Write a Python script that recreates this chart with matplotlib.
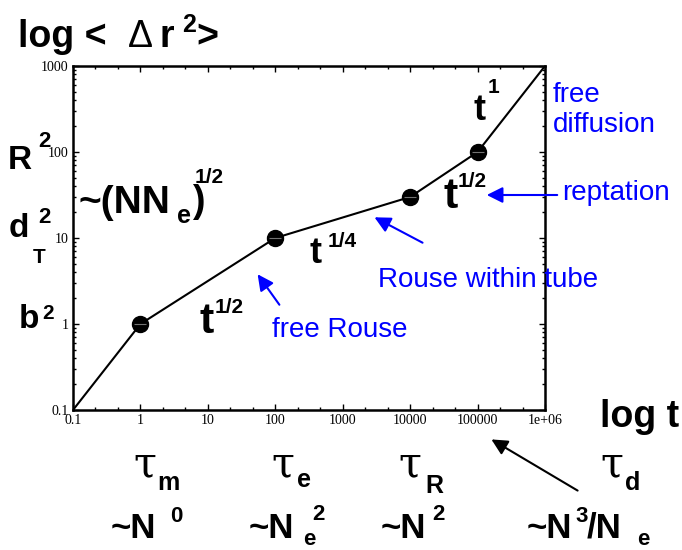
import numpy as np
import matplotlib
matplotlib.use('Agg')
import matplotlib.pyplot as plt
from matplotlib.ticker import FixedLocator, NullFormatter

# data: mean square displacement regimes of a reptating chain
t_vals = [0.1, 1, 100, 1e4, 1e5, 1e6]
msd_vals = [0.1, 1, 10, 30, 100, 1000]
cross_t = [1, 100, 1e4, 1e5]
cross_msd = [1, 10, 30, 100]
x_ticks = [0.1, 1, 10, 100, 1000, 1e4, 1e5, 1e6]
x_tick_labels = ['0.1', '1', '10', '100', '1000', '10000', '100000', '1e+06']
y_ticks = [0.1, 1, 10, 100, 1000]
y_tick_labels = ['0.1', '1', '10', '100', '1000']

W, H = 682, 550
SANS = ['Liberation Sans', 'DejaVu Sans']
SERIF = ['Liberation Serif', 'DejaVu Serif']
BLUE = '#0000ff'

fig = plt.figure(figsize=(W / 100, H / 100), dpi=100)
ax = fig.add_axes([73 / W, 140 / H, 472 / W, 344 / H])

ax.plot(t_vals, msd_vals, color='black', lw=1.5, zorder=2)
ax.plot(cross_t, cross_msd, 'o', color='black', ms=11.5, zorder=3)
ax.plot(cross_t, cross_msd, '_', color='0.45', ms=8, mew=0.8, zorder=4)

ax.set_xscale('log')
ax.set_yscale('log')
ax.set_xlim(0.1, 1e6)
ax.set_ylim(0.1, 1000)
ax.set_xticks(x_ticks)
ax.set_xticklabels(x_tick_labels)
ax.set_yticks(y_ticks)
ax.set_yticklabels(y_tick_labels)
x_minor = [10 ** (e + f) for e in range(-1, 6) for f in (1 / 3, 2 / 3)]
ax.xaxis.set_minor_locator(FixedLocator(x_minor))
ax.xaxis.set_minor_formatter(NullFormatter())
ax.yaxis.set_minor_formatter(NullFormatter())
ax.tick_params(which='both', direction='in', top=True, right=True, width=1)
ax.tick_params(which='major', length=4)
ax.tick_params(axis='y', which='major', pad=3)
ax.tick_params(axis='x', which='major', pad=3)
ax.tick_params(which='minor', length=2.2)
for lab in ax.get_xticklabels() + ax.get_yticklabels():
    lab.set_family(SERIF)
    lab.set_fontsize(10)
for sp in ax.spines.values():
    sp.set_linewidth(1.8)


def txt(x, y, s, size, weight='bold', color='black', family=SANS):
    fig.text(x / W, 1 - y / H, s, fontsize=size, fontweight=weight,
             color=color, family=family, ha='left', va='baseline')


def arrow(x0, y0, x1, y1, color):
    fig.add_artist(matplotlib.patches.FancyArrowPatch(
        (x0 / W, 1 - y0 / H), (x1 / W, 1 - y1 / H), transform=fig.transFigure,
        arrowstyle='-|>', mutation_scale=24, lw=1.5, color=color))


# y-axis title
txt(18, 47, 'log <', 27)
txt(128, 47, '\u0394', 27, weight='normal')
txt(160, 47, 'r', 27)
txt(182, 32, '2', 18)
txt(196, 47, '>', 27)

# length scales on the left
txt(8, 169, 'R', 24)
txt(38, 147, '2', 16)
txt(9, 237, 'd', 24)
txt(33, 263, 'T', 15)
txt(38, 223, '2', 16)
txt(19, 328, 'b', 24)
txt(42, 319, '2', 15)
txt(78, 213, '~(NN', 28)
txt(177, 223, 'e', 18)
txt(192, 212, ')', 27)
txt(195, 183, '1/2', 15)

# power laws
txt(199, 333, 't', 31)
txt(215, 313, '1/2', 15)
txt(310, 263, 't', 26)
txt(328, 247, '1/4', 15)
txt(444, 208, 't', 31)
txt(458, 187, '1/2', 15)
txt(473, 120, 't', 26)
txt(488, 93, '1', 15)

# x-axis title
txt(600, 427, 'log t', 27)

# regime names
txt(553, 102, 'free', 20, weight='normal', color=BLUE)
txt(553, 132, 'diffusion', 20, weight='normal', color=BLUE)
txt(562, 200, 'reptation', 20, weight='normal', color=BLUE)
txt(378, 287, 'Rouse within tube', 20, weight='normal', color=BLUE)
txt(272, 337, 'free Rouse', 20, weight='normal', color=BLUE)
arrow(560, 195, 484, 195, BLUE)
arrow(425, 244, 372, 216, BLUE)
arrow(281, 307, 256, 272, BLUE)

# relaxation times
tau_x = [133, 271, 398, 600]
tau_sub = ['m', 'e', 'R', 'd']
tau_sub_dx = [24, 26, 27, 25]
tau_sub_y = [490, 487, 493, 490]
for x, s, dx, ys in zip(tau_x, tau_sub, tau_sub_dx, tau_sub_y):
    txt(x, 476, '\u03c4', 30, weight='normal', family=['DejaVu Serif'])
    txt(x + dx, ys, s, 18)

txt(111, 538, '~N', 25)
txt(170, 522, '0', 16)
txt(249, 538, '~N', 25)
txt(303, 545, 'e', 16)
txt(312, 520, '2', 16)
txt(381, 538, '~N', 25)
txt(432, 520, '2', 16)
txt(527, 538, '~N', 25)
txt(575, 522, '3', 16)
txt(587, 538, '/N', 25)
txt(637, 545, 'e', 16)
arrow(580, 492, 489, 438, 'black')

fig.savefig('out.png', dpi=100)
